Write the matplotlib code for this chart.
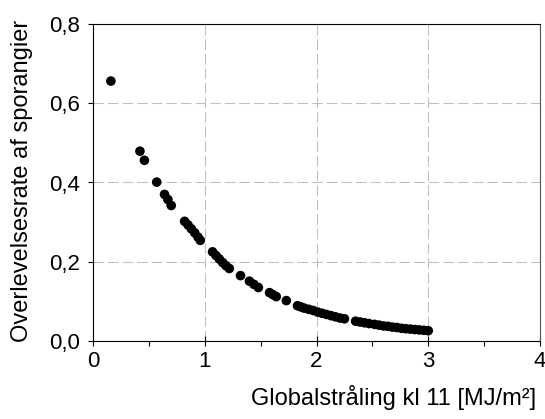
import matplotlib.pyplot as plt
from matplotlib.ticker import MultipleLocator, FuncFormatter

# Survival rate of sporangia vs global radiation at 11 o'clock
radiation = [0.16, 0.42, 0.46, 0.57, 0.64, 0.67, 0.70,
             0.82, 0.85, 0.88, 0.91, 0.94, 0.96,
             1.07, 1.10, 1.13, 1.16, 1.19, 1.22,
             1.32, 1.40, 1.44, 1.48, 1.58, 1.61, 1.64, 1.73,
             1.83, 1.86, 1.89, 1.93, 1.97, 2.01, 2.05, 2.09, 2.13, 2.17, 2.21, 2.25,
             2.35, 2.39, 2.43, 2.47, 2.52, 2.56, 2.60, 2.64, 2.68, 2.72, 2.76,
             2.80, 2.84, 2.88, 2.92, 2.96, 3.00]
survival = [0.656, 0.479, 0.456, 0.401, 0.370, 0.357, 0.342,
            0.302, 0.293, 0.283, 0.273, 0.262, 0.254,
            0.225, 0.216, 0.207, 0.198, 0.190, 0.183,
            0.165, 0.151, 0.143, 0.135, 0.122, 0.117, 0.112, 0.102,
            0.089, 0.086, 0.083, 0.080, 0.077, 0.073, 0.070, 0.067, 0.064, 0.061, 0.058, 0.056,
            0.050, 0.048, 0.046, 0.044, 0.042, 0.040, 0.038, 0.037, 0.035, 0.034, 0.032,
            0.031, 0.030, 0.029, 0.028, 0.027, 0.026]

xlabel = "Globalstråling kl 11 [MJ/m²]"
ylabel = "Overlevelsesrate af sporangier"

plt.rcParams["font.family"] = ["Liberation Sans", "DejaVu Sans"]

fig = plt.figure(figsize=(5.45, 4.19), dpi=100)
ax = fig.add_axes([93 / 545, 1 - 341 / 419, 447 / 545, 317 / 419])

ax.scatter(radiation, survival, s=48, color="black", edgecolors="none", zorder=3, clip_on=False)

ax.set_xlim(0, 4)
ax.set_ylim(0, 0.8)
ax.xaxis.set_major_locator(MultipleLocator(1))
ax.xaxis.set_minor_locator(MultipleLocator(0.5))
ax.yaxis.set_major_locator(MultipleLocator(0.2))
ax.yaxis.set_major_formatter(FuncFormatter(lambda v, _: f"{v:.1f}".replace(".", ",")))

# Excel-like axes: crossing major ticks on x, outward on y
ax.tick_params(axis="x", which="major", direction="inout", length=7, width=0.8,
               labelsize=16, pad=4)
ax.tick_params(axis="x", which="minor", direction="out", length=3.5, width=0.8)
ax.tick_params(axis="y", which="major", direction="out", length=3.5, width=0.8,
               labelsize=16, pad=6)

for side in ["left", "bottom", "top"]:
    ax.spines[side].set_linewidth(0.8)
    ax.spines[side].set_color("black")
ax.spines["right"].set_linewidth(0.8)
ax.spines["right"].set_color("#555555")

ax.grid(True, which="major", color="#c0c0c0", linestyle=(0, (10, 4)), linewidth=0.75)
ax.set_axisbelow(True)

fig.text(22 / 545, 1 - 181 / 419, ylabel, fontsize=17, rotation=90,
         ha="center", va="center")
fig.text(536 / 545, 1 - 397 / 419, xlabel, fontsize=17, ha="right", va="center")

fig.savefig("out.png", dpi=100)
